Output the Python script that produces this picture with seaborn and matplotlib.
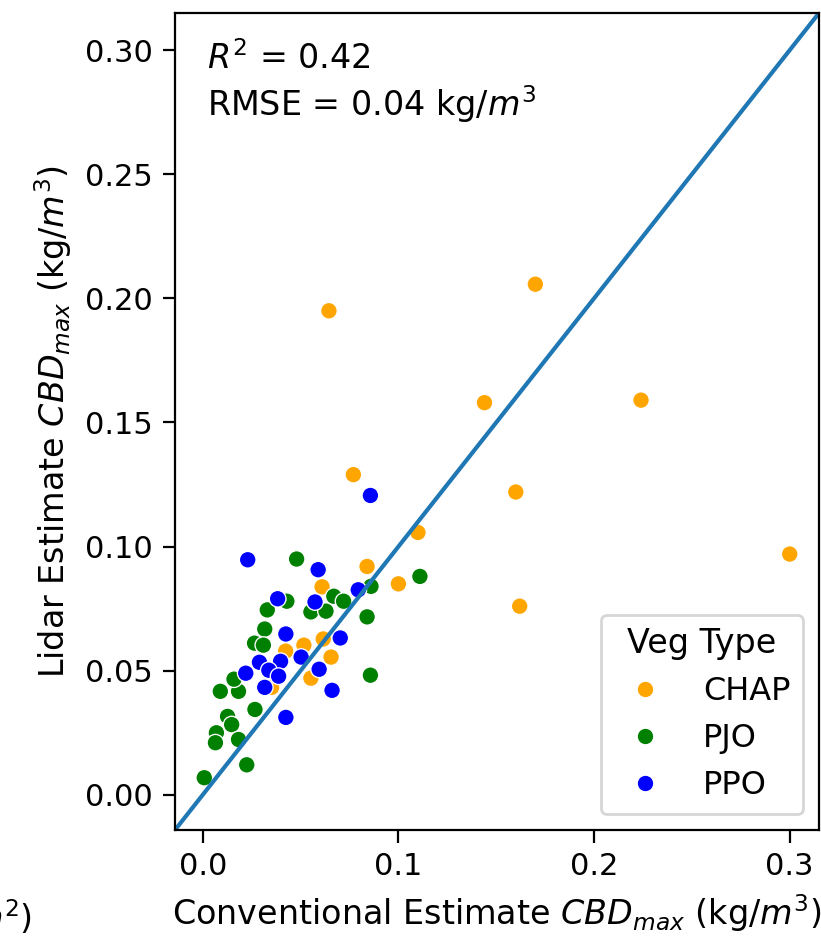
import matplotlib
matplotlib.use("Agg")
import matplotlib.pyplot as plt
import seaborn as sns
import pandas as pd

# ---- data ----
chap_x = [0.0645, 0.170, 0.144, 0.224, 0.077, 0.160, 0.110, 0.300, 0.084, 0.100,
          0.162, 0.061, 0.0616, 0.0517, 0.0424, 0.0656, 0.0553, 0.0352]
chap_y = [0.195, 0.2057, 0.158, 0.159, 0.129, 0.122, 0.1057, 0.097, 0.092, 0.085,
          0.076, 0.0838, 0.0628, 0.0603, 0.0579, 0.0555, 0.047, 0.0433]

pjo_x = [0.048, 0.111, 0.086, 0.067, 0.072, 0.043, 0.033, 0.0553, 0.063, 0.084,
         0.0317, 0.0265, 0.031, 0.0857, 0.009, 0.0183, 0.016, 0.0267, 0.0127,
         0.0148, 0.0070, 0.0065, 0.0183, 0.0225, 0.0008]
pjo_y = [0.095, 0.088, 0.084, 0.080, 0.078, 0.078, 0.0745, 0.0737, 0.074, 0.0717,
         0.0668, 0.0611, 0.0603, 0.0482, 0.0417, 0.0417, 0.0466, 0.0344, 0.0316,
         0.0283, 0.025, 0.021, 0.0223, 0.0121, 0.0069]

ppo_x = [0.0857, 0.023, 0.059, 0.0795, 0.0383, 0.0574, 0.0425, 0.0703, 0.029,
         0.0503, 0.0398, 0.0338, 0.0388, 0.022, 0.0595, 0.0317, 0.0661, 0.0425]
ppo_y = [0.1206, 0.0947, 0.0907, 0.0826, 0.079, 0.0777, 0.0648, 0.0632, 0.0534,
         0.0555, 0.0538, 0.0502, 0.0478, 0.049, 0.0506, 0.0433, 0.0421, 0.0312]

veg_types = ["CHAP", "PJO", "PPO"]
palette = {"CHAP": "orange", "PJO": "green", "PPO": "blue"}

df = pd.DataFrame({
    "conv": chap_x + pjo_x + ppo_x,
    "lidar": chap_y + pjo_y + ppo_y,
    "Veg Type": ["CHAP"] * len(chap_x) + ["PJO"] * len(pjo_x) + ["PPO"] * len(ppo_x),
})

r2_text = "$R^2$ = 0.42\nRMSE = 0.04 kg/$m^3$"

plt.rcParams.update({
    "font.size": 12,
    "axes.labelsize": 12,
    "xtick.labelsize": 11,
    "ytick.labelsize": 11,
    "legend.fontsize": 11.5,
    "legend.title_fontsize": 12,
    "xtick.major.size": 4.5,
    "ytick.major.size": 4.5,
})

# ---- figure ----
fig = plt.figure(figsize=(821 / 200, 943 / 200), dpi=200)
ax = fig.add_axes([175 / 821, 1 - 830 / 943, (819 - 175) / 821, (830 - 13) / 943])

sns.scatterplot(data=df, x="conv", y="lidar", hue="Veg Type",
                hue_order=veg_types, palette=palette, ax=ax)

lo = min(ax.get_xlim()[0], ax.get_ylim()[0])
hi = max(ax.get_xlim()[1], ax.get_ylim()[1])
ax.plot([lo, hi], [lo, hi], color="C0")
ax.set_xlim(lo, hi)
ax.set_ylim(lo, hi)

ax.set_xticks([0.0, 0.1, 0.2, 0.3])
ax.set_yticks([0.0, 0.05, 0.10, 0.15, 0.20, 0.25, 0.30])

ax.set_xlabel("Conventional Estimate $CBD_{max}$ (kg/$m^3$)")
ax.set_ylabel("Lidar Estimate $CBD_{max}$ (kg/$m^3$)")
ax.text(0.05, 0.965, r2_text, transform=ax.transAxes, va="top", ha="left")
ax.legend(title="Veg Type", loc="lower right")

# fragment of neighbouring panel's label (cropped in the reference)
fig.text(32 / 821, 1 - 918 / 943, "Conventional Estimate $CFL$ (kg/$m^2$)",
         ha="right", va="center")

fig.savefig("out.png", dpi=200)
